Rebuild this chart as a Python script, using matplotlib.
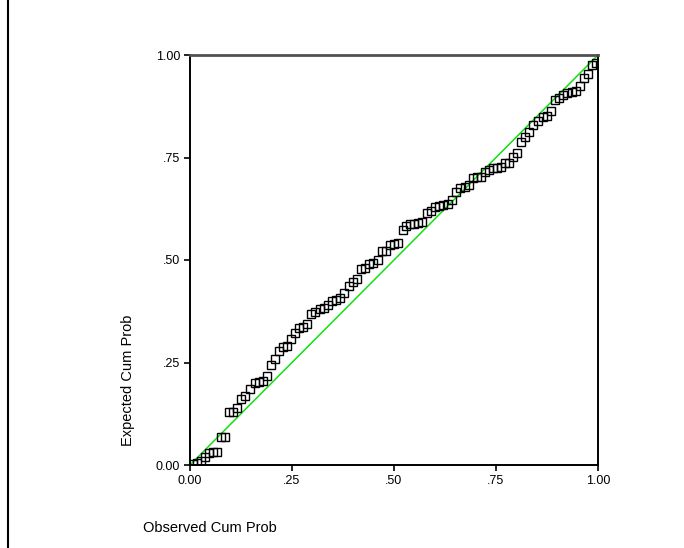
import numpy as np
import matplotlib.pyplot as plt
from matplotlib.lines import Line2D

plt.rcParams['font.family'] = ['Liberation Sans', 'DejaVu Sans']

# observed / expected cumulative probabilities
observed = [0.007, 0.017, 0.027, 0.037, 0.047, 0.056, 0.066, 0.076, 0.086, 0.096,
            0.105, 0.115, 0.125, 0.135, 0.147, 0.159, 0.169, 0.179, 0.189, 0.199,
            0.208, 0.218, 0.228, 0.238, 0.248, 0.257, 0.267, 0.277, 0.287, 0.297,
            0.306, 0.319, 0.328, 0.338, 0.348, 0.358, 0.368, 0.377, 0.390, 0.400,
            0.409, 0.419, 0.429, 0.439, 0.449, 0.461, 0.471, 0.480, 0.490, 0.500,
            0.510, 0.522, 0.529, 0.539, 0.549, 0.559, 0.569, 0.581, 0.591, 0.600,
            0.610, 0.620, 0.632, 0.642, 0.652, 0.662, 0.674, 0.684, 0.694, 0.703,
            0.713, 0.723, 0.733, 0.743, 0.752, 0.762, 0.772, 0.782, 0.792, 0.801,
            0.811, 0.821, 0.831, 0.841, 0.853, 0.865, 0.875, 0.885, 0.895, 0.904,
            0.914, 0.924, 0.936, 0.946, 0.956, 0.966, 0.975, 0.985, 0.995]
expected = [0.002, 0.005, 0.010, 0.020, 0.029, 0.032, 0.032, 0.068, 0.068, 0.129,
            0.129, 0.139, 0.161, 0.168, 0.185, 0.200, 0.202, 0.205, 0.217, 0.244,
            0.259, 0.278, 0.288, 0.290, 0.307, 0.322, 0.334, 0.337, 0.344, 0.368,
            0.373, 0.380, 0.383, 0.390, 0.400, 0.402, 0.407, 0.420, 0.437, 0.446,
            0.454, 0.478, 0.480, 0.490, 0.493, 0.500, 0.522, 0.522, 0.537, 0.539,
            0.541, 0.573, 0.583, 0.588, 0.588, 0.590, 0.593, 0.615, 0.620, 0.629,
            0.632, 0.634, 0.637, 0.646, 0.666, 0.676, 0.678, 0.683, 0.700, 0.702,
            0.702, 0.715, 0.720, 0.724, 0.724, 0.727, 0.737, 0.737, 0.751, 0.761,
            0.788, 0.800, 0.812, 0.829, 0.839, 0.849, 0.851, 0.863, 0.890, 0.895,
            0.902, 0.907, 0.910, 0.912, 0.924, 0.944, 0.954, 0.976, 0.980]

ticks = [0, 0.25, 0.5, 0.75, 1.0]
tick_labels = ['0.00', '.25', '.50', '.75', '1.00']
ref_line = [0, 1]

fig = plt.figure(figsize=(6.84, 5.48), dpi=100)
ax = fig.add_axes([190/684, 1-465/548, 408/684, 410/548])

ax.plot(ref_line, ref_line, color='#11e011', lw=1.1, zorder=2)
ax.plot(observed, expected, 's', ms=6, mfc='none', mec='black', mew=1.0, zorder=3)

ax.set_xlim(0, 1)
ax.set_ylim(0, 1)
ax.set_xticks(ticks)
ax.set_xticklabels(tick_labels)
ax.set_yticks(ticks)
ax.set_yticklabels(tick_labels)
ax.tick_params(direction='out', length=4, width=1.2, labelsize=9, pad=3)

for side in ['left', 'right', 'bottom']:
    ax.spines[side].set_linewidth(1.4)
    ax.spines[side].set_color('black')
ax.spines['top'].set_linewidth(2.0)
ax.spines['top'].set_color('#505050')

fig.text(210/684, 1-528/548, 'Observed Cum Prob', fontsize=10.5, ha='center', va='center')
fig.text(128/684, 1-380/548, 'Expected Cum Prob', fontsize=10.5, ha='center', va='center',
         rotation=90)

# frame line on the left edge
fig.add_artist(Line2D([7.5/684, 7.5/684], [0, 1], color='black', lw=1.5))

fig.savefig('out.png', dpi=100)
